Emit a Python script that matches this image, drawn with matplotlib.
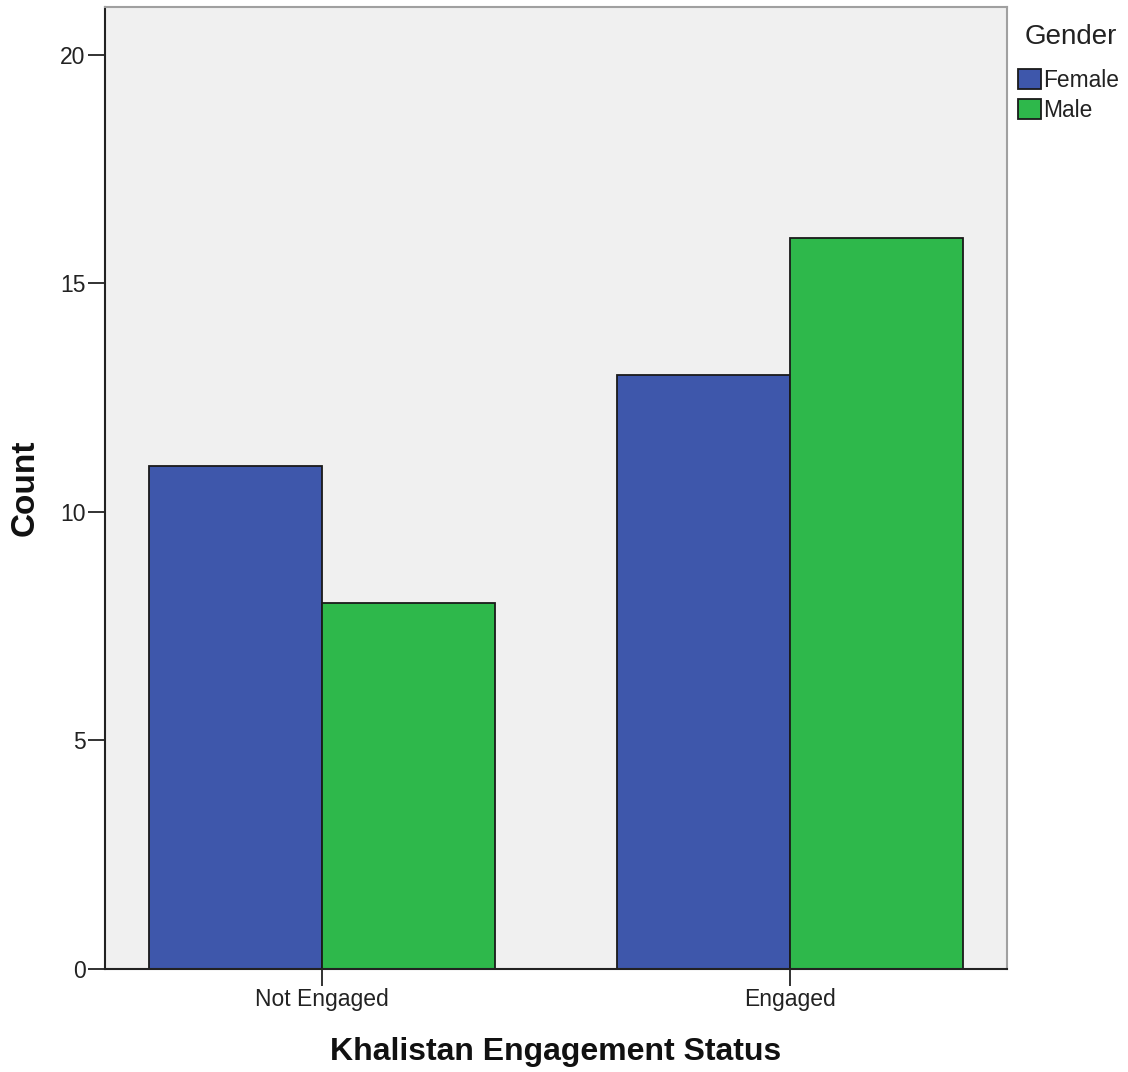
import matplotlib
matplotlib.use("Agg")
import matplotlib.pyplot as plt
import numpy as np

categories = ["Not Engaged", "Engaged"]
female = [11, 13]
male = [8, 16]
series_names = ["Female", "Male"]
colors = ["#3e57ab", "#2eb84b"]

plt.rcParams['font.family'] = ['Liberation Sans', 'DejaVu Sans']

fig = plt.figure(figsize=(11.28, 10.72), dpi=100)
ax = fig.add_axes([105/1128, 103/1072, 902/1128, 962/1072])
ax.set_facecolor("#f0f0f0")

x = np.arange(len(categories))
w = 0.3697
ax.bar(x - w/2, female, w, color=colors[0], edgecolor="#1a1a1a", linewidth=1.3, label=series_names[0], zorder=2)
ax.bar(x + w/2, male, w, color=colors[1], edgecolor="#1a1a1a", linewidth=1.3, label=series_names[1], zorder=2)

ax.set_xlim(-0.4638, 1.4638)
ax.set_ylim(0, 21.05)
ax.set_yticks([0, 5, 10, 15, 20])
ax.set_xticks(x)
ax.set_xticklabels(categories)
ax.tick_params(axis='both', direction='out', length=12, width=1.3, labelsize=16.5, color="#222222", pad=2, labelcolor="#222222")

for s in ['left', 'bottom']:
    ax.spines[s].set_color("#222222")
    ax.spines[s].set_linewidth(1.5)
for s in ['top', 'right']:
    ax.spines[s].set_color("#a0a0a0")
    ax.spines[s].set_linewidth(1.5)

ax.set_ylabel("Count", fontsize=24, fontweight='bold', va='center', color="#111111")
ax.yaxis.set_label_coords((25 - 105) / 902, 0.5)
ax.set_xlabel("Khalistan Engagement Status", fontsize=23, fontweight='bold', va='center', color="#111111")
ax.xaxis.set_label_coords(0.5, (969 - 1052) / 962)

fig.text(1071/1128, 1 - 37/1072, "Gender", fontsize=20, ha='center', va='center', color="#222222")
leg = fig.legend(loc='upper left', bbox_to_anchor=(1018/1128, 1 - 69/1072), frameon=False,
                 fontsize=16.4, handlelength=1.0, handleheight=1.0, handletextpad=0.1,
                 labelspacing=0.3, borderaxespad=0, borderpad=0)
for p in leg.get_patches():
    p.set_edgecolor("#1a1a1a")
    p.set_linewidth(1.3)
for t in leg.get_texts():
    t.set_color("#222222")

fig.savefig("out.png", dpi=100)
